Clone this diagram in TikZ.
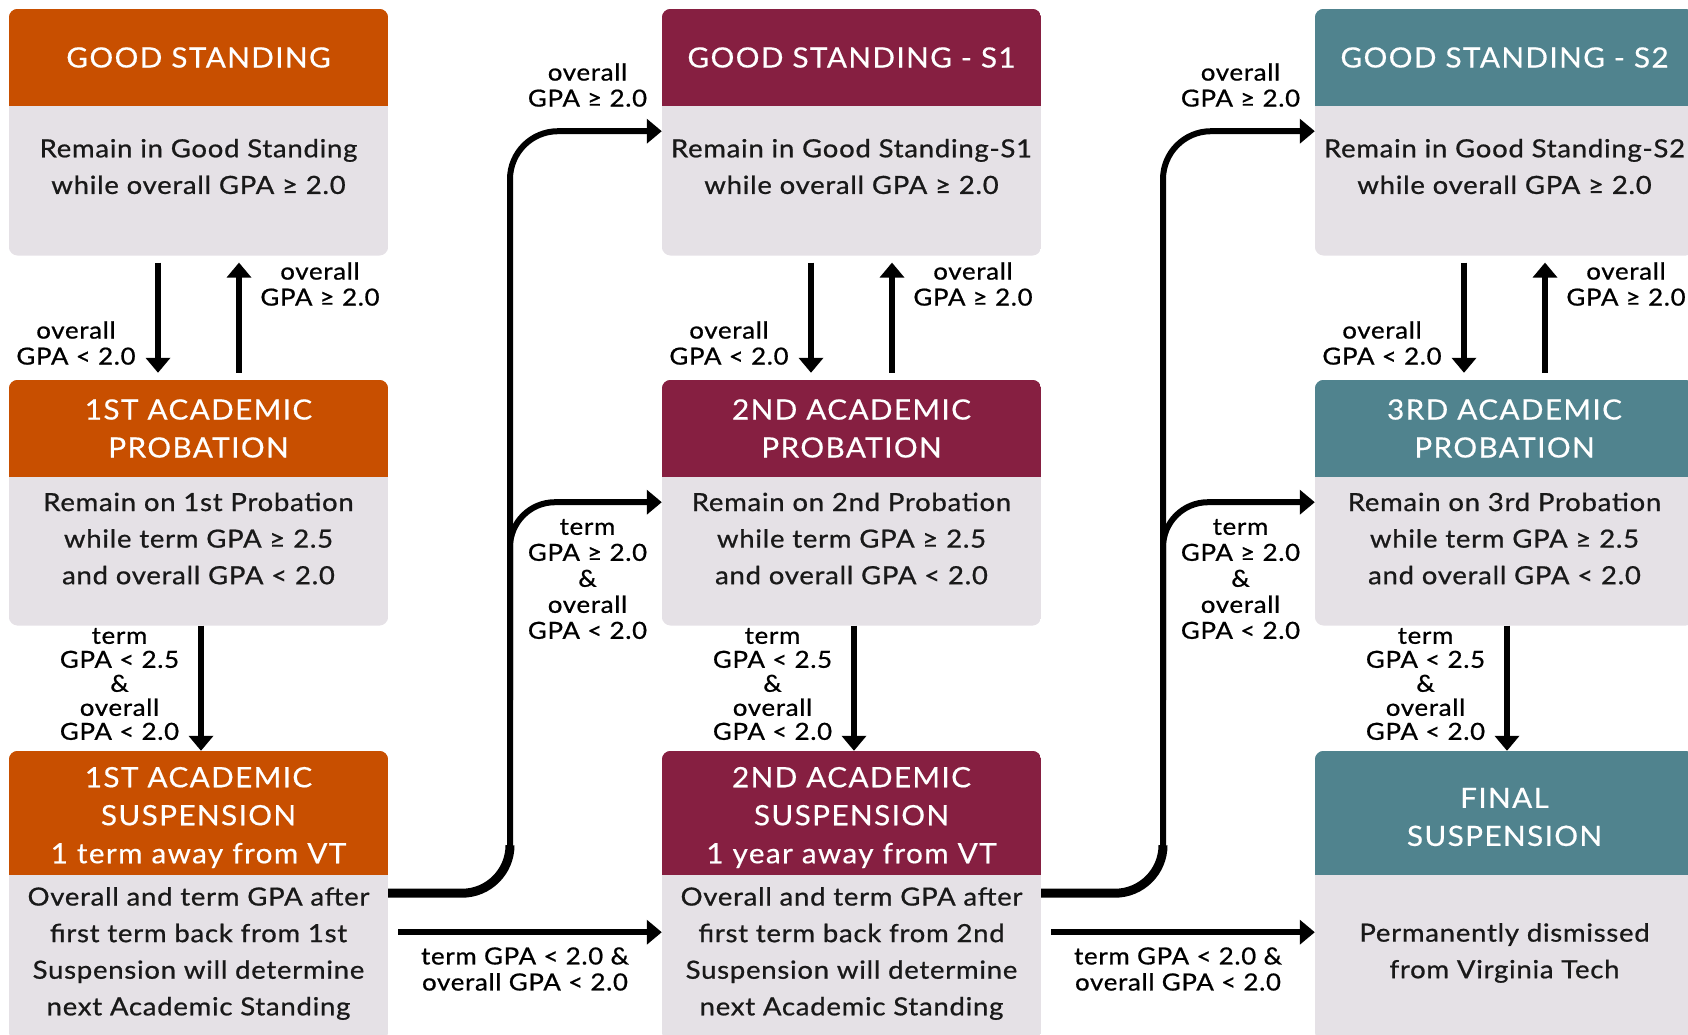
\documentclass[tikz,border=0pt]{standalone}
\usepackage{fontspec}
\setmainfont{Lato}[FakeStretch=1.1, LetterSpace=3, FakeBold=0.8]
\newfontfamily\headfont{Lato}[FakeStretch=1.06, LetterSpace=5, FakeBold=0.5]
\usetikzlibrary{positioning,arrows.meta,backgrounds}
\definecolor{vtorange}{HTML}{C84F00}
\definecolor{vtmaroon}{HTML}{861F41}
\definecolor{vtteal}{HTML}{50838E}
\definecolor{boxgrey}{HTML}{E5E1E6}
\begin{document}
\begin{tikzpicture}[x=1pt, y=-1pt,
    head/.style={minimum width=379pt, inner sep=0pt, align=center, text=white,
      font=\headfont\fontsize{28}{38}\selectfont},
    body/.style={minimum width=379pt, inner sep=0pt, below=0pt of #1},
    bodytext/.style={align=center, inner sep=0pt, text=black!90,
      font=\fontsize{25}{36.6}\selectfont},
    cond/.style={align=center, inner sep=0pt, font=\fontsize{23.5}{26}\selectfont},
    arr/.style={line width=6pt, -{Triangle[width=24pt,length=15pt]}}]

  \useasboundingbox (0,0) rectangle (1688,1034);

  % first column
  \node[head, minimum height=97pt] (gs0) at (198.5,57.5) {GOOD STANDING};
  \node[body=gs0, minimum height=149pt] (gs0b) {};
  \node[bodytext] (gs0t) at (198.5,166.5) {Remain in Good Standing\\while overall GPA ≥ 2.0};
  \node[head, minimum height=97pt] (pr1) at (198.5,428.5) {1ST ACADEMIC\\PROBATION};
  \node[body=pr1, minimum height=148pt] (pr1b) {};
  \node[bodytext] (pr1t) at (198.5,538.5) {Remain on 1st Probation\\while term GPA ≥ 2.5\\and overall GPA < 2.0};
  \node[head, minimum height=124pt] (su1) at (198.5,813) {};
  \node[head] (su1h) at (198.5,817.5) {1ST ACADEMIC\\SUSPENSION\\1 term away from VT};
  \node[body=su1, minimum height=165pt] (su1b) {};
  \node[bodytext] (su1t) at (198.5,953.5) {Overall and term GPA after\\first term back from 1st\\Suspension will determine\\next Academic Standing};

  % second column
  \node[head, minimum height=97pt] (gs1) at (851.5,57.5) {GOOD STANDING - S1};
  \node[body=gs1, minimum height=149pt] (gs1b) {};
  \node[bodytext] (gs1t) at (851.5,166.5) {Remain in Good Standing-S1\\while overall GPA ≥ 2.0};
  \node[head, minimum height=97pt] (pr2) at (851.5,428.5) {2ND ACADEMIC\\PROBATION};
  \node[body=pr2, minimum height=148pt] (pr2b) {};
  \node[bodytext] (pr2t) at (851.5,538.5) {Remain on 2nd Probation\\while term GPA ≥ 2.5\\and overall GPA < 2.0};
  \node[head, minimum height=124pt] (su2) at (851.5,813) {};
  \node[head] (su2h) at (851.5,817.5) {2ND ACADEMIC\\SUSPENSION\\1 year away from VT};
  \node[body=su2, minimum height=165pt] (su2b) {};
  \node[bodytext] (su2t) at (851.5,953.5) {Overall and term GPA after\\first term back from 2nd\\Suspension will determine\\next Academic Standing};

  % third column
  \node[head, minimum height=97pt] (gs2) at (1504.5,57.5) {GOOD STANDING - S2};
  \node[body=gs2, minimum height=149pt] (gs2b) {};
  \node[bodytext] (gs2t) at (1504.5,166.5) {Remain in Good Standing-S2\\while overall GPA ≥ 2.0};
  \node[head, minimum height=97pt] (pr3) at (1504.5,428.5) {3RD ACADEMIC\\PROBATION};
  \node[body=pr3, minimum height=148pt] (pr3b) {};
  \node[bodytext] (pr3t) at (1504.5,538.5) {Remain on 3rd Probation\\while term GPA ≥ 2.5\\and overall GPA < 2.0};
  \node[head, minimum height=124pt] (fin) at (1504.5,813) {};
  \node[head] (finh) at (1504.5,817) {FINAL\\SUSPENSION};
  \node[body=fin, minimum height=165pt] (finb) {};
  \node[bodytext] (fint) at (1504.5,953) {Permanently dismissed\\from Virginia Tech};

  % box backgrounds
  \begin{scope}[on background layer]
    \foreach \n/\c in {gs0/vtorange, pr1/vtorange, su1/vtorange,
        gs1/vtmaroon, pr2/vtmaroon, su2/vtmaroon,
        gs2/vtteal, pr3/vtteal, fin/vtteal} {
      \begin{scope}
        \clip[rounded corners=9pt] (\n.north west) rectangle (\n b.south east);
        \fill[\c] (\n.north west) rectangle (\n.south east);
        \fill[boxgrey] (\n.south west) rectangle (\n b.south east);
      \end{scope}
    }
  \end{scope}

  % up and down within a column
  \draw[arr] ([xshift=-40.5pt,yshift=-7pt]gs0b.south) -- ([xshift=-40.5pt,yshift=7pt]pr1.north);
  \draw[arr] ([xshift=40.5pt,yshift=7pt]pr1.north) -- ([xshift=40.5pt,yshift=-7pt]gs0b.south);
  \draw[arr] ([xshift=2.5pt]pr1b.south) -- ([xshift=2.5pt]su1.north);
  \draw[arr] ([xshift=-40.5pt,yshift=-7pt]gs1b.south) -- ([xshift=-40.5pt,yshift=7pt]pr2.north);
  \draw[arr] ([xshift=40.5pt,yshift=7pt]pr2.north) -- ([xshift=40.5pt,yshift=-7pt]gs1b.south);
  \draw[arr] ([xshift=2.5pt]pr2b.south) -- ([xshift=2.5pt]su2.north);
  \draw[arr] ([xshift=-40.5pt,yshift=-7pt]gs2b.south) -- ([xshift=-40.5pt,yshift=7pt]pr3.north);
  \draw[arr] ([xshift=40.5pt,yshift=7pt]pr3.north) -- ([xshift=40.5pt,yshift=-7pt]gs2b.south);
  \draw[arr] ([xshift=2.5pt]pr3b.south) -- ([xshift=2.5pt]fin.north);

  % from a suspension to the next column
  \coordinate (o1) at ([yshift=-18pt]su1b.north east);
  \coordinate (j1) at (510,700);
  \coordinate (k1) at (o1 -| j1);
  \coordinate (h1) at ([yshift=-25pt]gs1b.north west);
  \coordinate (b1) at ([yshift=-25pt]pr2b.north west);
  \draw[arr, rounded corners=48pt] (o1) -- (k1) -- (j1 |- h1) -- (h1);
  \draw[line width=9pt, rounded corners=48pt] (o1) -- (k1) -- ([yshift=48pt]k1);
  \draw[arr, rounded corners=45pt] (j1) -- (j1 |- b1) -- (b1);
  \draw[arr] ([xshift=10pt,yshift=-57pt]su1b.north east) -- ([yshift=-57pt]su2b.north west);

  \coordinate (o2) at ([yshift=-18pt]su2b.north east);
  \coordinate (j2) at (1163,700);
  \coordinate (k2) at (o2 -| j2);
  \coordinate (h2) at ([yshift=-25pt]gs2b.north west);
  \coordinate (b2) at ([yshift=-25pt]pr3b.north west);
  \draw[arr, rounded corners=48pt] (o2) -- (k2) -- (j2 |- h2) -- (h2);
  \draw[line width=9pt, rounded corners=48pt] (o2) -- (k2) -- ([yshift=48pt]k2);
  \draw[arr, rounded corners=45pt] (j2) -- (j2 |- b2) -- (b2);
  \draw[arr] ([xshift=10pt,yshift=-57pt]su2b.north east) -- ([yshift=-57pt]finb.north west);

  % conditions
  \node[cond] (c1a) at (76,343) {overall\\GPA < 2.0};
  \node[cond] (c1b) at (320,284) {overall\\GPA ≥ 2.0};
  \node[cond, font=\fontsize{23.5}{24}\selectfont] (c1c) at (119.5,684) {term\\GPA < 2.5\\\&\\overall\\GPA < 2.0};
  \node[cond] (c1d) at (587.5,85) {overall\\GPA ≥ 2.0};
  \node[cond] (c1e) at (587.5,579) {term\\GPA ≥ 2.0\\\&\\overall\\GPA < 2.0};
  \node[cond] (c1f) at (525,969) {term GPA < 2.0 \&\\overall GPA < 2.0};

  \node[cond] (c2a) at (729,343) {overall\\GPA < 2.0};
  \node[cond] (c2b) at (973,284) {overall\\GPA ≥ 2.0};
  \node[cond, font=\fontsize{23.5}{24}\selectfont] (c2c) at (772.5,684) {term\\GPA < 2.5\\\&\\overall\\GPA < 2.0};
  \node[cond] (c2d) at (1240.5,85) {overall\\GPA ≥ 2.0};
  \node[cond] (c2e) at (1240.5,579) {term\\GPA ≥ 2.0\\\&\\overall\\GPA < 2.0};
  \node[cond] (c2f) at (1178,969) {term GPA < 2.0 \&\\overall GPA < 2.0};

  \node[cond] (c3a) at (1382,343) {overall\\GPA < 2.0};
  \node[cond] (c3b) at (1626,284) {overall\\GPA ≥ 2.0};
  \node[cond, font=\fontsize{23.5}{24}\selectfont] (c3c) at (1425.5,684) {term\\GPA < 2.5\\\&\\overall\\GPA < 2.0};
\end{tikzpicture}
\end{document}
